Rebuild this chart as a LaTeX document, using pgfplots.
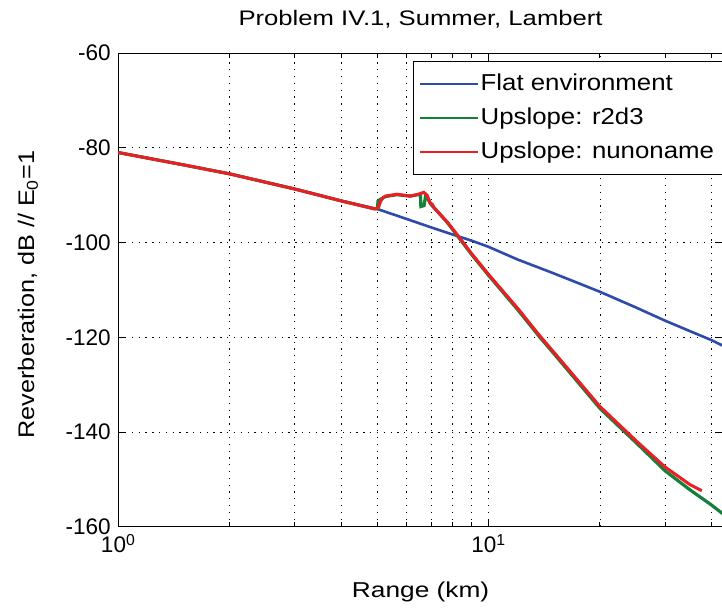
\documentclass[border=0pt]{standalone}
\usepackage{fontspec}
\setmainfont{Liberation Sans}
\newfontfamily\wideA{Liberation Sans}[FakeStretch=1.22]
\newfontfamily\wideB{Liberation Sans}[FakeStretch=1.12]
\usepackage{pgfplots}
\pgfplotsset{compat=1.18}
\definecolor{cblue}{RGB}{45,75,170}
\definecolor{cgreen}{RGB}{20,128,60}
\definecolor{cred}{RGB}{235,30,35}
\begin{document}
\fontsize{22}{26}\selectfont
\begin{tikzpicture}
\begin{axis}[
  scale only axis, width=604pt, height=473pt,
  xmode=log, log basis x=10,
  xmin=1, xmax=43, ymin=-160, ymax=-60,
  ytick={-160,-140,...,-60},
  xtick={1,10}, xticklabels={10\textsuperscript{0},10\textsuperscript{1}},
  minor xtick={2,3,4,5,6,7,8,9,20,30,40},
  grid=both,
  major grid style={black, line width=0.7pt, dash pattern=on 1.3pt off 5.5pt},
  minor grid style={black, line width=0.7pt, dash pattern=on 1.3pt off 5.5pt},
  tick style={black, line width=0.8pt},
  major tick length=8pt, minor tick length=5pt,
  axis line style={black, line width=1pt},
  /pgf/number format/assume math mode=true,
  tick label style={font=\fontsize{22.5}{26}\selectfont},
  title={Problem IV.1, Summer, Lambert},
  title style={at={(axis description cs:0.5,1.0465)}, anchor=base, font=\wideA\fontsize{21}{24}\selectfont},
  xlabel={Range (km)},
  xlabel style={at={(axis description cs:0.5,-0.150)}, anchor=base, font=\wideA\fontsize{21.5}{26}\selectfont},
  ylabel={Reverberation, dB // E\textsubscript{0}=1},
  ylabel style={at={(axis description cs:-0.139,0.49)}, anchor=base, font=\wideB\fontsize{22.5}{26}\selectfont},
  legend style={at={(axis description cs:0.487,0.983)}, anchor=north west, draw=black, line width=1pt, fill=white,
    font=\wideB\fontsize{23}{26}\selectfont, row sep=10pt, inner xsep=6pt, inner ysep=10.5pt},
  legend cell align=left,
  legend image code/.code={\draw[#1, line width=2.4pt] (0pt,0pt) -- (57pt,0pt);},
]
\addplot[cblue, line width=2.6pt] coordinates {
(1,-81.0) (1.5,-83.6) (2,-85.5) (3,-88.7) (4,-91.2) (5,-92.9) (6,-95.0) (7,-96.8)
(8,-98.3) (9,-99.6) (10,-100.9) (12,-103.6) (15,-106.5) (20,-110.4) (25,-113.7)
(30,-116.5) (35,-118.7) (40,-120.6) (43,-121.8)};
\addlegendentry{\makebox[245pt][l]{Flat environment}}
\addplot[cgreen, line width=3.2pt] coordinates {
(1,-81.0) (1.5,-83.6) (2,-85.5) (3,-88.7) (4,-91.2) (4.93,-92.9) (5.02,-92.9)
(5.03,-91.3) (5.1,-90.9) (5.27,-90.3) (5.66,-89.9) (6.15,-90.2) (6.45,-89.9) (6.55,-89.7)
(6.57,-92.4) (6.70,-92.2) (6.76,-90.3) (6.83,-90.5) (6.97,-91.8) (7.12,-92.6) (7.73,-95.7)
(8.4,-99.4) (9,-102.5) (10,-106.9) (12,-114.2) (13.8,-120.1) (15,-123.4) (20,-135.0)
(25,-142.2) (30,-148.2) (35,-152.2) (40,-155.4) (43,-157.3)};
\addlegendentry{\makebox[245pt][l]{Upslope: r2d3}}
\addplot[cred, line width=3.0pt] coordinates {
(1,-81.0) (1.5,-83.6) (2,-85.5) (3,-88.7) (4,-91.2) (4.93,-92.9) (5.05,-92.6)
(5.12,-91.2) (5.2,-90.5) (5.27,-90.2) (5.66,-89.8) (6.15,-90.2) (6.55,-89.7) (6.69,-89.4)
(6.83,-90.0) (6.97,-91.7) (7.05,-91.9) (7.12,-92.6) (7.73,-95.6) (8.4,-99.2) (9,-102.3)
(10,-106.7) (12,-113.9) (13.8,-119.8) (15,-123.1) (20,-134.6) (25,-141.8) (30,-147.4)
(35,-151.1) (37.7,-152.4)};
\addlegendentry{\makebox[245pt][l]{Upslope: nunoname}}
\end{axis}
\pgfresetboundingbox
\path[use as bounding box] ([shift={(-118pt,-83pt)}]current axis.south west) rectangle ([shift={(603pt,526pt)}]current axis.south west);
\end{tikzpicture}
\end{document}
